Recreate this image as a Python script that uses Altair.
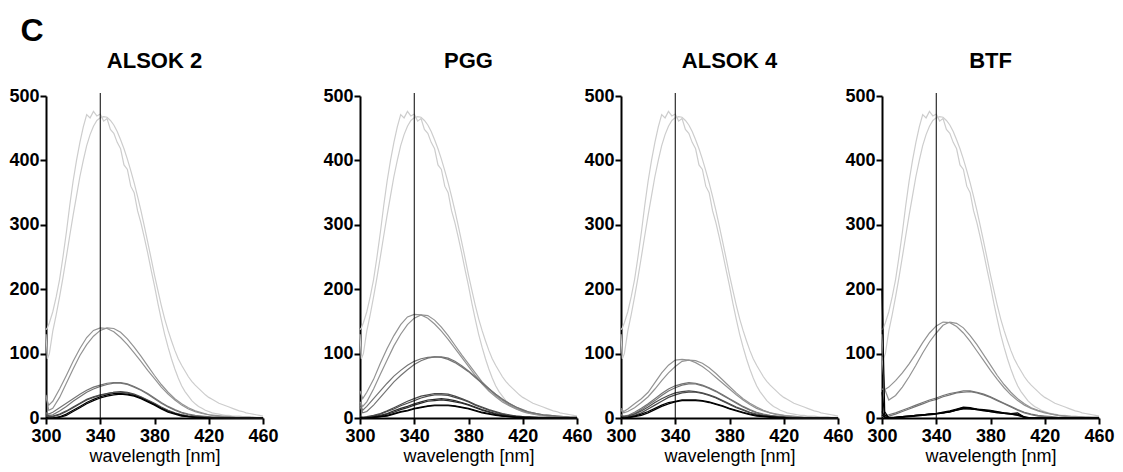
import altair as alt
import pandas as pd

FONT = "Liberation Sans"

# wavelength grids
NM = [300, 302, 305, 310, 315, 320, 325, 330, 335, 340,
      345, 350, 355, 360, 365, 370, 375, 380, 385, 390,
      395, 400, 405, 410, 415, 420, 425, 430, 435, 440,
      445, 450, 455, 460]
LIGHT_NM = [300, 301] + [302.5 + 2.5 * i for i in range(64)]

# reference (light grey) spectra, same in all panels
LIGHT_A = [137, 140, 148, 165, 188, 215, 250, 288, 330, 368,
           400, 428, 452, 471, 466, 476, 469, 472, 461, 465,
           448, 442, 428, 418, 393, 386, 360, 350, 322, 303,
           280, 256, 230, 205, 178, 153, 130, 110, 92, 76,
           62, 50, 41, 34, 27, 22, 18, 15, 12, 10,
           8, 7, 6, 5, 4, 4, 3, 3, 3, 2,
           2, 2, 2, 1, 1, 1]
LIGHT_B = [130, 92, 100, 135, 160, 188, 218, 250, 283, 315,
           345, 375, 400, 423, 440, 453, 462, 466, 468, 467,
           462, 455, 445, 432, 418, 402, 384, 365, 344, 322,
           298, 273, 248, 222, 198, 175, 154, 136, 120, 105,
           92, 82, 73, 64, 57, 51, 46, 41, 36, 32,
           29, 26, 23, 21, 19, 17, 15, 13, 11, 10,
           8, 7, 6, 5, 4, 3]

# ALSOK 2
A2_C1 = [33, 20, 26, 45, 66, 88, 108, 125, 136, 140, 139, 134, 125, 114, 101, 88, 74, 61, 48, 37, 28, 20, 14, 10, 7, 5, 3, 2, 2, 1, 1, 1, 0, 0]
A2_C2 = [36, 12, 15, 32, 54, 76, 97, 114, 127, 136, 140, 139, 133, 123, 110, 96, 81, 66, 52, 40, 30, 22, 16, 11, 8, 5, 4, 3, 2, 1, 1, 1, 0, 0]
A2_D1 = [8, 6, 9, 16, 23, 30, 37, 43, 48, 51, 54, 55, 55, 53, 49, 44, 38, 31, 24, 18, 13, 9, 6, 4, 3, 2, 1, 1, 1, 0, 0, 0, 0, 0]
A2_D2 = [5, 4, 5, 11, 18, 26, 33, 40, 45, 49, 52, 54, 54, 52, 48, 43, 37, 30, 23, 17, 12, 8, 5, 3, 2, 1, 1, 1, 0, 0, 0, 0, 0, 0]
A2_E1 = [3, 2, 2, 5, 10, 16, 22, 28, 32, 35, 38, 40, 41, 40, 37, 33, 28, 23, 17, 12, 8, 5, 3, 2, 1, 1, 0, 0, 0, 0, 0, 0, 0, 0]
A2_E2 = [6, 3, 3, 6, 11, 17, 23, 29, 33, 36, 38, 40, 40, 39, 36, 32, 27, 22, 16, 11, 7, 5, 3, 2, 1, 1, 0, 0, 0, 0, 0, 0, 0, 0]
A2_F1 = [1, 0, 0, 2, 6, 12, 18, 24, 29, 33, 36, 38, 38, 37, 35, 31, 26, 21, 15, 10, 7, 4, 2, 1, 1, 0, 0, 0, 0, 0, 0, 0, 0, 0]
A2_F2 = [0, 0, 0, 1, 4, 10, 16, 22, 27, 31, 34, 36, 37, 36, 34, 30, 25, 20, 14, 9, 6, 3, 2, 1, 0, 0, 0, 0, 0, 0, 0, 0, 0, 0]

# PGG
PG_G1 = [42, 30, 40, 60, 85, 108, 128, 145, 157, 161, 160, 155, 146, 135, 122, 108, 94, 80, 66, 53, 42, 33, 25, 19, 14, 10, 7, 5, 4, 3, 2, 2, 1, 1]
PG_G2 = [25, 18, 25, 45, 68, 90, 112, 130, 145, 155, 160, 159, 152, 141, 128, 113, 98, 84, 70, 56, 45, 35, 27, 20, 15, 11, 8, 6, 4, 3, 2, 2, 1, 1]
PG_H1 = [22, 12, 18, 30, 42, 54, 65, 74, 82, 88, 92, 94, 95, 94, 91, 86, 79, 72, 63, 54, 45, 37, 29, 23, 17, 13, 9, 7, 5, 4, 3, 2, 1, 1]
PG_H2 = [18, 8, 10, 20, 32, 44, 56, 66, 75, 83, 89, 93, 95, 95, 93, 88, 81, 73, 64, 55, 46, 37, 29, 22, 17, 12, 9, 7, 5, 4, 3, 2, 1, 1]
PG_L1 = [3, 1, 2, 4, 7, 11, 16, 21, 26, 30, 34, 36, 38, 38, 37, 34, 30, 26, 21, 17, 13, 10, 7, 5, 3, 2, 2, 1, 1, 1, 0, 0, 0, 0]
PG_L2 = [2, 1, 1, 3, 6, 10, 14, 19, 23, 27, 31, 34, 36, 36, 35, 32, 29, 25, 20, 16, 12, 9, 6, 4, 3, 2, 1, 1, 1, 0, 0, 0, 0, 0]
PG_M1 = [2, 0, 1, 2, 4, 7, 11, 15, 18, 22, 25, 28, 29, 30, 29, 27, 24, 21, 17, 13, 10, 7, 5, 3, 2, 1, 1, 1, 0, 0, 0, 0, 0, 0]
PG_M2 = [1, 0, 0, 1, 3, 6, 9, 13, 16, 20, 23, 26, 27, 28, 27, 25, 23, 20, 16, 12, 9, 6, 4, 3, 2, 1, 1, 0, 0, 0, 0, 0, 0, 0]
PG_N1 = [1, 0, 0, 1, 2, 4, 7, 10, 12, 15, 17, 19, 20, 20, 20, 19, 17, 15, 12, 9, 7, 5, 3, 2, 1, 1, 0, 0, 0, 0, 0, 0, 0, 0]
PG_N2 = [1, 0, 0, 1, 2, 3, 6, 9, 11, 14, 16, 18, 19, 19, 19, 18, 16, 14, 11, 8, 6, 4, 3, 2, 1, 1, 0, 0, 0, 0, 0, 0, 0, 0]

# ALSOK 4
A4_I1 = [15, 10, 14, 22, 30, 40, 55, 70, 82, 90, 91, 90, 86, 80, 72, 63, 54, 45, 36, 28, 21, 15, 11, 8, 5, 4, 3, 2, 1, 1, 1, 0, 0, 0]
A4_I2 = [12, 8, 10, 16, 24, 33, 45, 58, 70, 80, 88, 90, 89, 85, 78, 69, 59, 49, 39, 30, 23, 17, 12, 8, 6, 4, 3, 2, 1, 1, 0, 0, 0, 0]
A4_J1 = [5, 3, 4, 9, 15, 22, 30, 38, 45, 50, 53, 55, 54, 51, 47, 42, 36, 30, 24, 18, 13, 9, 6, 4, 3, 2, 1, 1, 0, 0, 0, 0, 0, 0]
A4_J2 = [4, 2, 3, 7, 13, 20, 27, 35, 42, 47, 51, 53, 53, 50, 46, 41, 35, 29, 23, 17, 12, 8, 5, 3, 2, 1, 1, 0, 0, 0, 0, 0, 0, 0]
A4_K1 = [4, 2, 3, 6, 11, 17, 24, 30, 35, 39, 41, 42, 41, 39, 36, 32, 27, 22, 17, 13, 9, 6, 4, 3, 2, 1, 1, 0, 0, 0, 0, 0, 0, 0]
A4_K2 = [3, 1, 2, 4, 8, 14, 20, 26, 32, 36, 39, 40, 40, 38, 35, 31, 26, 21, 16, 12, 8, 5, 3, 2, 1, 1, 0, 0, 0, 0, 0, 0, 0, 0]
A4_L1 = [2, 0, 1, 3, 6, 10, 15, 20, 24, 26, 28, 28, 28, 27, 25, 22, 19, 15, 12, 9, 6, 4, 3, 2, 1, 1, 0, 0, 0, 0, 0, 0, 0, 0]
A4_L2 = [1, 0, 0, 2, 4, 8, 13, 18, 22, 25, 27, 27, 27, 26, 24, 21, 18, 14, 11, 8, 5, 3, 2, 1, 1, 0, 0, 0, 0, 0, 0, 0, 0, 0]

# BTF
BT_P1 = [45, 44, 48, 58, 70, 84, 100, 117, 132, 143, 149, 148, 142, 132, 119, 104, 89, 74, 60, 47, 36, 27, 20, 15, 11, 8, 6, 4, 3, 2, 2, 1, 1, 1]
BT_P2 = [95, 45, 28, 35, 48, 64, 82, 101, 118, 132, 144, 149, 147, 140, 128, 114, 98, 82, 66, 52, 40, 30, 22, 16, 12, 9, 6, 4, 3, 2, 2, 1, 1, 1]
BT_Q1 = [5, 4, 5, 8, 12, 16, 20, 24, 28, 31, 35, 38, 40, 42, 42, 40, 37, 33, 28, 23, 18, 13, 9, 6, 4, 3, 2, 1, 1, 0, 0, 0, 0, 0]
BT_Q2 = [3, 2, 3, 6, 10, 14, 18, 22, 26, 29, 33, 36, 39, 40, 41, 39, 36, 32, 27, 22, 17, 12, 8, 5, 3, 2, 1, 0, 0, 0, 0, 0, 0, 0]
BT_R1 = [200, 10, 0, 1, 2, 3, 4, 5, 6, 7, 9, 11, 14, 17, 16, 14, 13, 12, 10, 8, 7, 8, 1, 0, 0, 0, 0, 0, 0, 0, 0, 0, 0, 0]
BT_R2 = [40, 5, 1, 1, 2, 3, 4, 5, 6, 7, 8, 10, 13, 16, 15, 14, 12, 11, 9, 8, 7, 6, 2, 0, 0, 0, 0, 0, 0, 0, 0, 0, 0, 0]
BT_R3 = [10, 2, 0, 1, 2, 3, 4, 5, 6, 7, 8, 10, 12, 15, 14, 13, 12, 10, 9, 7, 6, 5, 1, 0, 0, 0, 0, 0, 0, 0, 0, 0, 0, 0]
BT_R4 = [5, 1, 0, 0, 1, 2, 3, 4, 5, 6, 8, 9, 12, 14, 14, 13, 11, 10, 8, 7, 6, 4, 1, 0, 0, 0, 0, 0, 0, 0, 0, 0, 0, 0]

LIGHT = "#cdcdcd"
G1 = "#939393"
G2 = "#747474"
G3 = "#4a4a4a"
G4 = "#2a2a2a"
G5 = "#000000"

PANELS = [
    ("ALSOK 2", [(G1, [A2_C1, A2_C2]), (G2, [A2_D1, A2_D2]), (G3, [A2_E1, A2_E2]), (G5, [A2_F1, A2_F2])]),
    ("PGG", [(G1, [PG_G1, PG_G2]), (G2, [PG_H1, PG_H2]), (G3, [PG_L1, PG_L2]), (G4, [PG_M1, PG_M2]), (G5, [PG_N1, PG_N2])]),
    ("ALSOK 4", [(G1, [A4_I1, A4_I2]), (G2, [A4_J1, A4_J2]), (G3, [A4_K1, A4_K2]), (G5, [A4_L1, A4_L2])]),
    ("BTF", [(G1, [BT_P1, BT_P2]), (G2, [BT_Q1, BT_Q2]), (G5, [BT_R1, BT_R2, BT_R3, BT_R4])]),
]

W, H = 217, 322

AXIS_STYLE = dict(domainColor="black", domainWidth=2, tickColor="black", tickWidth=2, tickSize=6,
                  labelFont=FONT, labelFontWeight="bold", labelFontSize=18, labelColor="black",
                  labelFlush=False, labelOverlap=False, grid=False)

x_enc = alt.X("nm:Q", scale=alt.Scale(domain=[300, 460], nice=False, zero=False),
              axis=alt.Axis(values=[300, 340, 380, 420, 460], title="wavelength [nm]",
                            titleFont=FONT, titleColor="black",
                            titleFontWeight="normal", titleFontSize=18, titlePadding=2,
                            labelPadding=3, **AXIS_STYLE))
y_enc = alt.Y("val:Q", scale=alt.Scale(domain=[0, 500], nice=False),
              axis=alt.Axis(values=[0, 100, 200, 300, 400, 500], title="", labelPadding=1,
                            **AXIS_STYLE))


def line_layer(series_list, nm, color, width=1.2):
    rows = []
    for k, s in enumerate(series_list):
        for x, v in zip(nm, s):
            rows.append({"nm": x, "val": v, "curve": k})
    df = pd.DataFrame(rows)
    return alt.Chart(df).mark_line(color=color, strokeWidth=width).encode(
        x=x_enc, y=y_enc, detail="curve:N")


def panel(title, groups):
    layers = [line_layer([LIGHT_A, LIGHT_B], LIGHT_NM, LIGHT, 1.2)]
    for color, series in groups:
        layers.append(line_layer(series, NM, color))
    rule = alt.Chart(pd.DataFrame({"nm": [340]})).mark_rule(color="black", strokeWidth=1).encode(
        x=x_enc, y=alt.value(-3), y2=alt.value(H))
    layers.append(rule)
    return alt.layer(*layers).properties(
        width=W, height=H,
        title=alt.TitleParams(title, fontSize=22, fontWeight="bold", font=FONT, color="black", offset=14))


spacer = alt.Chart(pd.DataFrame({"a": [0]})).mark_point(opacity=0).encode(
    x=alt.value(0), y=alt.value(0)).properties(width=9, height=H)

charts = [panel(t, g) for t, g in PANELS]
chart = alt.hconcat(charts[0], spacer, charts[1], charts[2], charts[3], spacing=44, bounds="flush").properties(
    title=alt.TitleParams("C", fontSize=32, fontWeight="bold", font=FONT, color="black",
                          anchor="start", dx=12, offset=2),
    padding={"left": 0, "top": 6, "right": 0, "bottom": 0},
).configure_view(stroke="transparent").configure_axis(**AXIS_STYLE)

chart.save("out.html", embed_options={"renderer": "svg", "actions": False})
